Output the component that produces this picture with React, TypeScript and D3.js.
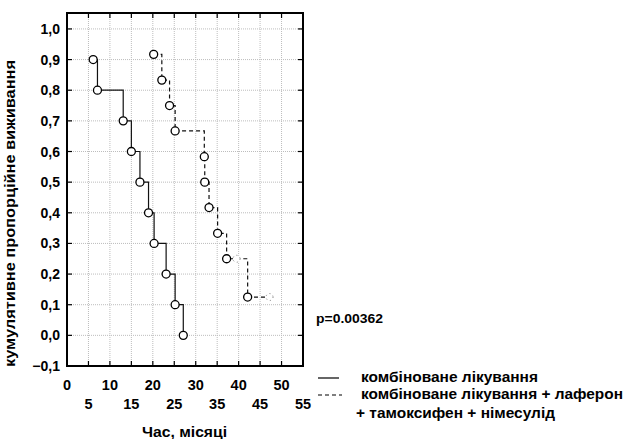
import React from 'react';
import * as d3 from 'd3';

// Kaplan-Meier: combined treatment
const timeA = [6.1, 7.1, 13.1, 15, 17, 19, 20.3, 23.1, 25.2, 27.1];
const survA = [0.9, 0.8, 0.7, 0.6, 0.5, 0.4, 0.3, 0.2, 0.1, 0.0];

// combined treatment + laferon + tamoxifen + nimesulide
const timeB = [20.2, 22.1, 23.9, 25.2, 32, 32.1, 33.1, 35.1, 37.2, 42.1];
const survB = [0.917, 0.833, 0.75, 0.667, 0.583, 0.5, 0.417, 0.333, 0.25, 0.125];
const censTimeB = [39.5, 47.2];
const censSurvB = [0.25, 0.125];

const xTicks = [0, 5, 10, 15, 20, 25, 30, 35, 40, 45, 50, 55];
const yTicks = [-0.1, 0, 0.1, 0.2, 0.3, 0.4, 0.5, 0.6, 0.7, 0.8, 0.9, 1.0];

const legendLabels = ['комбіноване лікування', 'комбіноване лікування + лаферон', '+ тамоксифен + німесулід'];

const W = 625;
const H = 439;
const font = '"Liberation Sans", Arial, sans-serif';

export default function App() {
  const left = 67, right = 303, top = 13, bottom = 366;

  const x = d3.scaleLinear().domain([0, 55]).range([left, right]);
  const y = d3.scaleLinear().domain([-0.1, 1.052]).range([bottom, top]);

  const step = d3.line<[number, number]>()
    .x(d => x(d[0]))
    .y(d => y(d[1]))
    .curve(d3.curveStepAfter);

  const ptsA: [number, number][] = timeA.map((t, i) => [t, survA[i]]);
  const ptsB: [number, number][] = timeB.map((t, i) => [t, survB[i]]);
  // dashed line runs on to the last censored case
  ptsB.push([censTimeB[censTimeB.length - 1], censSurvB[censSurvB.length - 1]]);

  const tickLen = 5;

  return (
    <svg width={W} height={H} style={{ position: 'absolute', left: 0, top: 0, background: '#fff' }} fontFamily={font}>
      {/* grid */}
      {xTicks.slice(1, -1).map(t => (
        <line key={'gx' + t} x1={x(t)} x2={x(t)} y1={top} y2={bottom} stroke="#bdbdbd" strokeDasharray="1,1" />
      ))}
      {yTicks.slice(1).map(t => (
        <line key={'gy' + t} x1={left} x2={right} y1={y(t)} y2={y(t)} stroke="#bdbdbd" strokeDasharray="1,1" />
      ))}

      {/* inward ticks on all sides */}
      {xTicks.slice(1, -1).map(t => (
        <g key={'tx' + t} stroke="#000" strokeWidth={1.2}>
          <line x1={x(t)} x2={x(t)} y1={top} y2={top + tickLen} />
          <line x1={x(t)} x2={x(t)} y1={bottom} y2={bottom - tickLen} />
        </g>
      ))}
      {yTicks.slice(1).map(t => (
        <g key={'ty' + t} stroke="#000" strokeWidth={1.2}>
          <line x1={left} x2={left + tickLen} y1={y(t)} y2={y(t)} />
          <line x1={right} x2={right - tickLen} y1={y(t)} y2={y(t)} />
        </g>
      ))}

      {/* frame */}
      <rect x={left} y={top} width={right - left} height={bottom - top} fill="none" stroke="#000" strokeWidth={2} />

      {/* tick labels */}
      {yTicks.map(t => (
        <text key={'ly' + t} x={60} y={y(t) + 5} textAnchor="end" fontSize={14} fontWeight="bold">
          {d3.format('.1f')(t).replace('.', ',')}
        </text>
      ))}
      {xTicks.map((t, i) => (
        <text key={'lx' + t} x={x(t)} y={i % 2 === 0 ? 390 : 409} textAnchor="middle" fontSize={14.5} fontWeight="bold">
          {t}
        </text>
      ))}

      {/* axis titles */}
      <text x={142} y={437} fontSize={14} fontWeight="bold" textLength={85} lengthAdjust="spacingAndGlyphs">Час, місяці</text>
      <text transform={`translate(15,367) rotate(-90)`} fontSize={14} fontWeight="bold" textLength={307} lengthAdjust="spacingAndGlyphs">
        кумулятивне пропорційне виживання
      </text>

      {/* survival curves */}
      <path d={step(ptsA) || ''} fill="none" stroke="#111" strokeWidth={1.2} />
      <path d={step(ptsB) || ''} fill="none" stroke="#111" strokeWidth={1.2} strokeDasharray="4,3" />

      {ptsA.map((p, i) => (
        <circle key={'ca' + i} cx={x(p[0])} cy={y(p[1])} r={4} fill="#fff" stroke="#000" strokeWidth={1.3} />
      ))}
      {timeB.map((t, i) => (
        <circle key={'cb' + i} cx={x(t)} cy={y(survB[i])} r={4} fill="#fff" stroke="#000" strokeWidth={1.3} />
      ))}
      {censTimeB.map((t, i) => (
        <circle key={'cc' + i} cx={x(t)} cy={y(censSurvB[i])} r={3.5} fill="#fff" stroke="#777" strokeWidth={1} strokeDasharray="1,3" />
      ))}

      {/* p value */}
      <text x={316} y={323} fontSize={13.5} fontWeight="bold" textLength={67} lengthAdjust="spacingAndGlyphs">p=0.00362</text>

      {/* legend */}
      <line x1={318} x2={339} y1={378} y2={378} stroke="#000" strokeWidth={1.2} />
      <line x1={318} x2={342} y1={395} y2={395} stroke="#000" strokeWidth={1.2} strokeDasharray="4,3" />
      <text x={361} y={382} fontSize={14} fontWeight="bold" textLength={177} lengthAdjust="spacingAndGlyphs">{legendLabels[0]}</text>
      <text x={361} y={399} fontSize={14} fontWeight="bold" textLength={262} lengthAdjust="spacingAndGlyphs">{legendLabels[1]}</text>
      <text x={356} y={418} fontSize={14} fontWeight="bold" textLength={199} lengthAdjust="spacingAndGlyphs">{legendLabels[2]}</text>
    </svg>
  );
}
